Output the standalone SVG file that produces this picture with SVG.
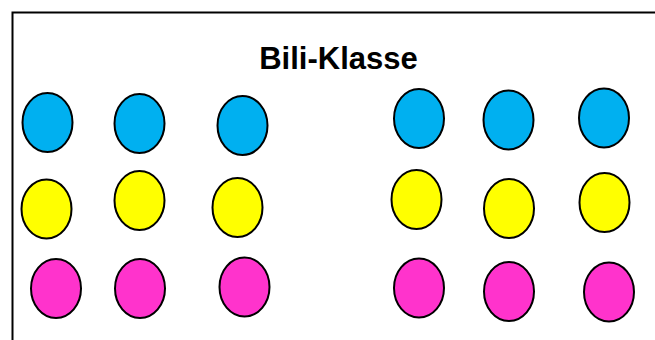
<svg xmlns="http://www.w3.org/2000/svg" width="655" height="340" viewBox="0 0 655 340">
<style>
.frame{fill:none;stroke:#000;stroke-width:2}
.dot{stroke:#000;stroke-width:2}
.b{fill:#00b0f0}
.y{fill:#ffff00}
.p{fill:#ff33cc}
.title{font-family:"Liberation Sans",Arial,sans-serif;font-weight:bold;font-size:31px;fill:#000}
</style>
<rect width="655" height="340" fill="#fff"/>
<path class="frame" d="M12.5,341 V12.5 H656"/>
<text class="title" x="338.5" y="69" text-anchor="middle">Bili-Klasse</text>
<g id="blue">
<ellipse id="b1" class="dot b" cx="47.5" cy="122.5" rx="25" ry="29.5"/>
<ellipse id="b2" class="dot b" cx="139.5" cy="123.5" rx="25" ry="29.5"/>
<ellipse id="b3" class="dot b" cx="242.5" cy="125.5" rx="25" ry="29.5"/>
<ellipse id="b4" class="dot b" cx="419" cy="118.5" rx="25" ry="29.5"/>
<ellipse id="b5" class="dot b" cx="508.5" cy="120" rx="25" ry="29.5"/>
<ellipse id="b6" class="dot b" cx="604" cy="118" rx="25" ry="29.5"/>
</g>
<g id="yellow">
<ellipse id="y1" class="dot y" cx="46.5" cy="209" rx="25" ry="29.5"/>
<ellipse id="y2" class="dot y" cx="139.5" cy="200.5" rx="25" ry="29.5"/>
<ellipse id="y3" class="dot y" cx="237.5" cy="207.5" rx="25" ry="29.5"/>
<ellipse id="y4" class="dot y" cx="416.5" cy="199.5" rx="25" ry="29.5"/>
<ellipse id="y5" class="dot y" cx="509" cy="208.5" rx="25" ry="29.5"/>
<ellipse id="y6" class="dot y" cx="604.5" cy="202.5" rx="25" ry="29.5"/>
</g>
<g id="pink">
<ellipse id="p1" class="dot p" cx="56" cy="288.5" rx="25" ry="29.5"/>
<ellipse id="p2" class="dot p" cx="140" cy="288.5" rx="25" ry="29.5"/>
<ellipse id="p3" class="dot p" cx="244.5" cy="287" rx="25" ry="29.5"/>
<ellipse id="p4" class="dot p" cx="419" cy="288" rx="25" ry="29.5"/>
<ellipse id="p5" class="dot p" cx="509" cy="291.5" rx="25" ry="29.5"/>
<ellipse id="p6" class="dot p" cx="609" cy="292" rx="25" ry="29.5"/>
</g>
<g id="connectors"/>
</svg>
